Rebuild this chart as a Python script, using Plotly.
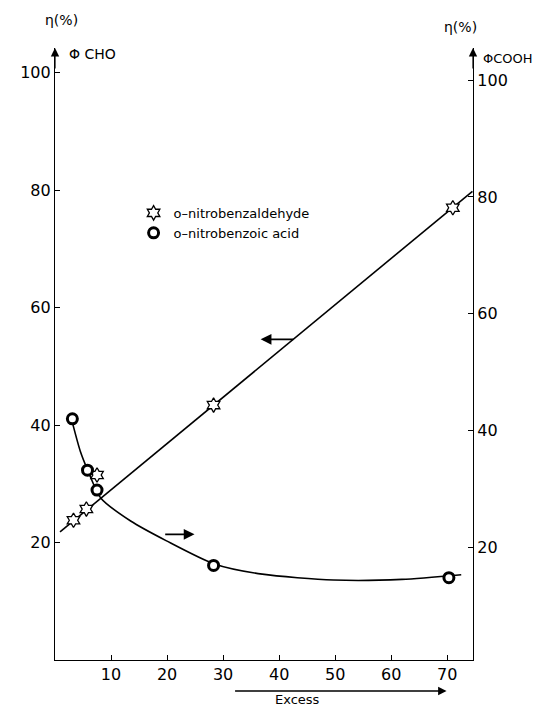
import plotly.graph_objects as go

# Data
ald_x = [3.3, 5.6, 7.5, 28.3, 71.0]
ald_y = [23.8, 25.7, 31.5, 43.4, 77.0]
acid_x = [3.1, 5.8, 7.5, 28.3, 70.3]
acid_y = [42.0, 33.2, 29.8, 16.9, 14.8]

# straight fitted line for aldehyde (endpoints)
ald_line_x = [0.9, 74.5]
ald_line_y = [21.8, 79.8]

# smooth fitted curve for acid
acid_curve_x = [3.2, 4.5, 5.8, 8.2, 13.5, 19.9, 28.3, 37.0, 49.7, 61.9, 72.5]
acid_curve_y = [41.0, 36.5, 33.3, 28.4, 24.5, 21.1, 17.2, 15.4, 14.4, 14.5, 15.3]

x_ticks = [10, 20, 30, 40, 50, 60, 70]
y_ticks = [20, 40, 60, 80, 100]

FONT = "DejaVu Sans"
OFF = 8                      # page body margin
W, H = 541 - OFF, 707 - OFF
ML, MR, MT, MB = 46 - OFF, 68, 48 - OFF, 47

fig = go.Figure()
fig.add_trace(go.Scatter(x=ald_line_x, y=ald_line_y, mode="lines",
                         line=dict(color="black", width=1.6), showlegend=False, hoverinfo="skip"))
fig.add_trace(go.Scatter(x=acid_curve_x, y=acid_curve_y, mode="lines", line_shape="spline",
                         line=dict(color="black", width=1.6, smoothing=0.7),
                         showlegend=False, hoverinfo="skip", yaxis="y2"))
fig.add_trace(go.Scatter(x=ald_x, y=ald_y, mode="markers", name="o\u2013nitrobenzaldehyde",
                         marker=dict(symbol="hexagram", size=11, color="white",
                                     line=dict(color="black", width=1.3))))
fig.add_trace(go.Scatter(x=acid_x, y=acid_y, mode="markers", name="o\u2013nitrobenzoic acid",
                         yaxis="y2",
                         marker=dict(symbol="circle", size=10, color="white",
                                     line=dict(color="black", width=3))))

pw, ph = W - ML - MR, H - MT - MB


def px(x, y):
    """window pixel -> paper fraction"""
    return (x - OFF - ML) / pw, (H + OFF - MB - y) / ph


def text_ann(x, y, text, size=14, xanchor="left"):
    X, Y = px(x, y)
    return dict(x=X, y=Y, xref="paper", yref="paper", text=text, showarrow=False,
                font=dict(size=size, family=FONT, color="black"),
                xanchor=xanchor, yanchor="middle")


hx, hy = px(446, 691)
annotations = [
    # axis arrows (top of left and right axes)
    dict(x=0, y=1.0, xref="paper", yref="paper", ax=0, ay=22, showarrow=True,
         arrowhead=2, arrowsize=1.4, arrowwidth=1.2, arrowcolor="black", text=""),
    dict(x=1, y=1.0, xref="paper", yref="paper", ax=0, ay=22, showarrow=True,
         arrowhead=2, arrowsize=1.4, arrowwidth=1.2, arrowcolor="black", text=""),
    # axis titles
    text_ann(34, 20, "\u03b7(%)", 14),
    text_ann(58, 54, "\u03a6 CHO", 14),
    text_ann(441, 27, "\u03b7(%)", 14),
    text_ann(481, 58, "\u03a6COOH", 13),
    # Excess label with arrow
    text_ann(294, 699, "Excess", 13, "center"),
    dict(x=hx, y=hy, xref="paper", yref="paper", ax=-213, ay=0, showarrow=True,
         arrowhead=2, arrowsize=1.3, arrowwidth=1.3, arrowcolor="black", text=""),
    # arrows indicating which axis each curve belongs to
    dict(x=24.9, y=21.4, xref="x", yref="y", ax=19.4, ay=21.4, axref="x", ayref="y",
         showarrow=True, arrowhead=2, arrowsize=1.2, arrowwidth=1.8, arrowcolor="black", text=""),
    dict(x=36.7, y=54.6, xref="x", yref="y", ax=42.8, ay=54.6, axref="x", ayref="y",
         showarrow=True, arrowhead=2, arrowsize=1.2, arrowwidth=1.8, arrowcolor="black", text=""),
]

fig.update_layout(
    width=W, height=H,
    margin=dict(l=ML, r=MR, t=MT, b=MB),
    plot_bgcolor="white", paper_bgcolor="white",
    font=dict(family=FONT, size=16, color="black"),
    annotations=annotations,
    legend=dict(x=0.188, y=0.755, xanchor="left", yanchor="top",
                font=dict(size=13, family=FONT), bgcolor="rgba(0,0,0,0)",
                tracegroupgap=0, itemwidth=30),
    xaxis=dict(range=[0, 74.6], tickvals=x_ticks, showline=True, linecolor="black",
               linewidth=1.2, ticks="inside", ticklen=5, tickcolor="black",
               showgrid=False, zeroline=False, tickfont=dict(size=16)),
    yaxis=dict(range=[0, 104.2], tickvals=y_ticks, showline=True, linecolor="black",
               linewidth=1.2, ticks="inside", ticklen=5, tickcolor="black",
               showgrid=False, zeroline=False, tickfont=dict(size=16)),
    yaxis2=dict(range=[0.7, 105.5], tickvals=y_ticks, overlaying="y", side="right",
                anchor="x", showline=True, linecolor="black", linewidth=1.2,
                ticks="inside", ticklen=5, tickcolor="black", showgrid=False,
                zeroline=False, tickfont=dict(size=16)),
)

fig.write_html("out.html")
